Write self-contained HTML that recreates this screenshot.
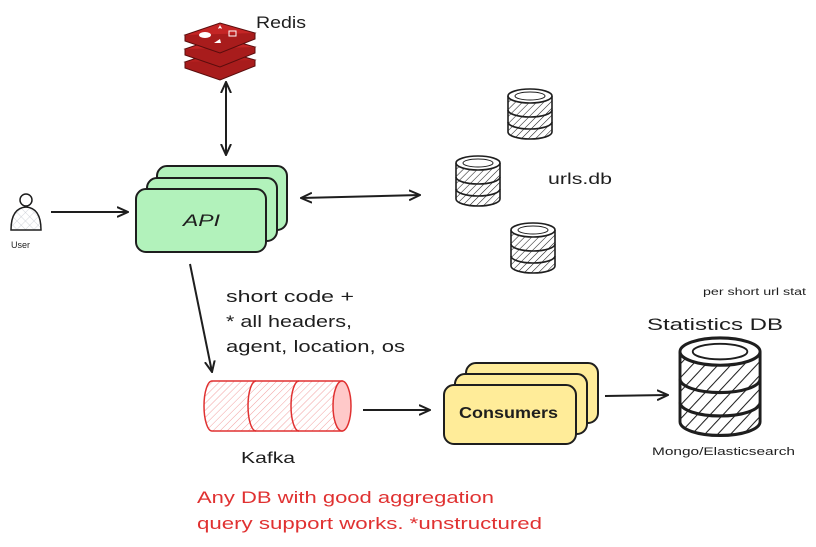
<!DOCTYPE html>
<html><head><meta charset="utf-8"><style>
html,body{margin:0;padding:0;background:#fff;width:816px;height:547px;overflow:hidden}
svg{display:block}
text{font-family:"Liberation Sans",sans-serif;fill:#1e1e1e}
</style></head><body>
<svg width="816" height="547" viewBox="0 0 816 547" xmlns="http://www.w3.org/2000/svg">
<defs>
<pattern id="h" width="5" height="5" patternUnits="userSpaceOnUse" patternTransform="rotate(45)"><line x1="0" y1="0" x2="0" y2="5" stroke="#1e1e1e" stroke-width="1.1"/></pattern>
<pattern id="hr" width="5" height="5" patternUnits="userSpaceOnUse" patternTransform="rotate(45)"><line x1="0" y1="0" x2="0" y2="5" stroke="#f2a0a0" stroke-width="1"/></pattern>
<pattern id="hx" width="6" height="6" patternUnits="userSpaceOnUse" patternTransform="rotate(45)"><path d="M0 0V6M0 0H6" stroke="#c8ccd4" stroke-width="0.8"/></pattern>
<g id="db">
<path d="M0 8 V44 A22 7 0 0 0 44 44 V8" fill="url(#h)" stroke="#1e1e1e" stroke-width="1.6"/>
<path d="M0 22 A22 7 0 0 0 44 22 M0 34 A22 7 0 0 0 44 34" fill="none" stroke="#1e1e1e" stroke-width="1.6"/>
<ellipse cx="22" cy="8" rx="22" ry="7" fill="#fff" stroke="#1e1e1e" stroke-width="1.6"/>
<ellipse cx="22" cy="8" rx="15" ry="4" fill="none" stroke="#1e1e1e" stroke-width="1"/>
</g>
<marker id="a" viewBox="0 0 12 12" refX="11" refY="6" markerWidth="12" markerHeight="12" orient="auto-start-reverse" markerUnits="userSpaceOnUse"><path d="M0 1 L11 6 L0 11" fill="none" stroke="#1e1e1e" stroke-width="2"/></marker>
</defs>

<!-- Redis -->
<g stroke="#5a0d0d" stroke-width="1">
<path d="M185 62 L220 50 L255 60 L220 74 Z" fill="#b52020"/>
<path d="M185 62 V68 L220 80 L255 66 V60" fill="#a81c1c"/>
<path d="M185 49 L220 37 L255 47 L220 61 Z" fill="#c42525"/>
<path d="M185 49 V55 L220 67 L255 53 V47" fill="#a81c1c"/>
<path d="M185 35 L220 23 L255 33 L220 47 Z" fill="#c42525"/>
<path d="M185 35 V41 L220 53 L255 39 V33" fill="#a81c1c"/>
</g>
<ellipse cx="205" cy="35" rx="6" ry="3" fill="#fff"/>
<path d="M218 29 l2 -4 l2 4 l-4 -2 h4z" fill="#fff"/>
<path d="M214 43 l6 -4 l1 4z" fill="#fff"/>
<rect x="229" y="31" width="7" height="5" fill="none" stroke="#fff"/>
<text x="256" y="28" font-size="17" textLength="50" lengthAdjust="spacingAndGlyphs">Redis</text>

<line x1="226" y1="82" x2="226" y2="155" stroke="#1e1e1e" stroke-width="2" marker-start="url(#a)" marker-end="url(#a)"/>

<!-- User -->
<circle cx="26" cy="200" r="6" fill="#fff" stroke="#1e1e1e" stroke-width="1.5"/>
<path d="M11 230 Q11 208 26 207 Q41 208 41 230 Z" fill="url(#hx)" stroke="#1e1e1e" stroke-width="1.5"/>
<text x="11" y="248" font-size="9">User</text>
<line x1="51" y1="212" x2="128" y2="212" stroke="#1e1e1e" stroke-width="2" marker-end="url(#a)"/>

<!-- API -->
<rect x="157" y="166" width="130" height="64" rx="10" fill="#b2f2bb" stroke="#1e1e1e" stroke-width="2"/>
<rect x="147" y="178" width="130" height="63" rx="10" fill="#b2f2bb" stroke="#1e1e1e" stroke-width="2"/>
<rect x="136" y="189" width="130" height="63" rx="10" fill="#b2f2bb" stroke="#1e1e1e" stroke-width="2"/>
<text x="183" y="226" font-size="17" font-style="italic" textLength="37" lengthAdjust="spacingAndGlyphs">API</text>

<line x1="301" y1="198" x2="420" y2="195" stroke="#1e1e1e" stroke-width="2" marker-start="url(#a)" marker-end="url(#a)"/>

<use href="#db" x="508" y="88"/>
<use href="#db" x="456" y="155"/>
<use href="#db" x="511" y="222"/>
<text x="548" y="184" font-size="16" textLength="64" lengthAdjust="spacingAndGlyphs">urls.db</text>

<line x1="190" y1="264" x2="212" y2="372" stroke="#1e1e1e" stroke-width="2" marker-end="url(#a)"/>
<text x="226" y="302" font-size="17" textLength="128" lengthAdjust="spacingAndGlyphs">short code +</text>
<text x="226" y="327" font-size="17" textLength="126" lengthAdjust="spacingAndGlyphs">* all headers,</text>
<text x="226" y="352" font-size="17" textLength="179" lengthAdjust="spacingAndGlyphs">agent, location, os</text>

<!-- Kafka -->
<path d="M212 381 H342 V431 H212 A8 25 0 0 1 212 381 Z" fill="url(#hr)" stroke="#e03131" stroke-width="1.5"/>
<path d="M256 381 A8 25 0 0 0 256 431 M299 381 A8 25 0 0 0 299 431" fill="none" stroke="#e03131" stroke-width="1.5"/>
<ellipse cx="342" cy="406" rx="9" ry="25" fill="#ffc9c9" stroke="#e03131" stroke-width="1.5"/>
<text x="241" y="463" font-size="16" textLength="54" lengthAdjust="spacingAndGlyphs">Kafka</text>

<line x1="363" y1="410" x2="430" y2="410" stroke="#1e1e1e" stroke-width="2" marker-end="url(#a)"/>

<!-- Consumers -->
<rect x="466" y="363" width="132" height="60" rx="10" fill="#ffec99" stroke="#1e1e1e" stroke-width="2"/>
<rect x="455" y="374" width="132" height="60" rx="10" fill="#ffec99" stroke="#1e1e1e" stroke-width="2"/>
<rect x="444" y="385" width="132" height="59" rx="10" fill="#ffec99" stroke="#1e1e1e" stroke-width="2"/>
<text x="459" y="418" font-size="16" font-weight="bold" textLength="99" lengthAdjust="spacingAndGlyphs">Consumers</text>

<line x1="605" y1="396" x2="668" y2="395" stroke="#1e1e1e" stroke-width="2" marker-end="url(#a)"/>

<text x="703" y="295" font-size="10" textLength="103" lengthAdjust="spacingAndGlyphs">per short url stat</text>
<text x="647" y="330" font-size="17" textLength="136" lengthAdjust="spacingAndGlyphs">Statistics DB</text>
<g transform="translate(680,336) scale(1.82,1.95)"><use href="#db"/></g>
<text x="652" y="455" font-size="11" textLength="143" lengthAdjust="spacingAndGlyphs">Mongo/Elasticsearch</text>

<text x="197" y="503" font-size="17" style="fill:#e03131" textLength="297" lengthAdjust="spacingAndGlyphs">Any DB with good aggregation</text>
<text x="197" y="529" font-size="17" style="fill:#e03131" textLength="345" lengthAdjust="spacingAndGlyphs">query support works. *unstructured</text>
</svg>
</body></html>
